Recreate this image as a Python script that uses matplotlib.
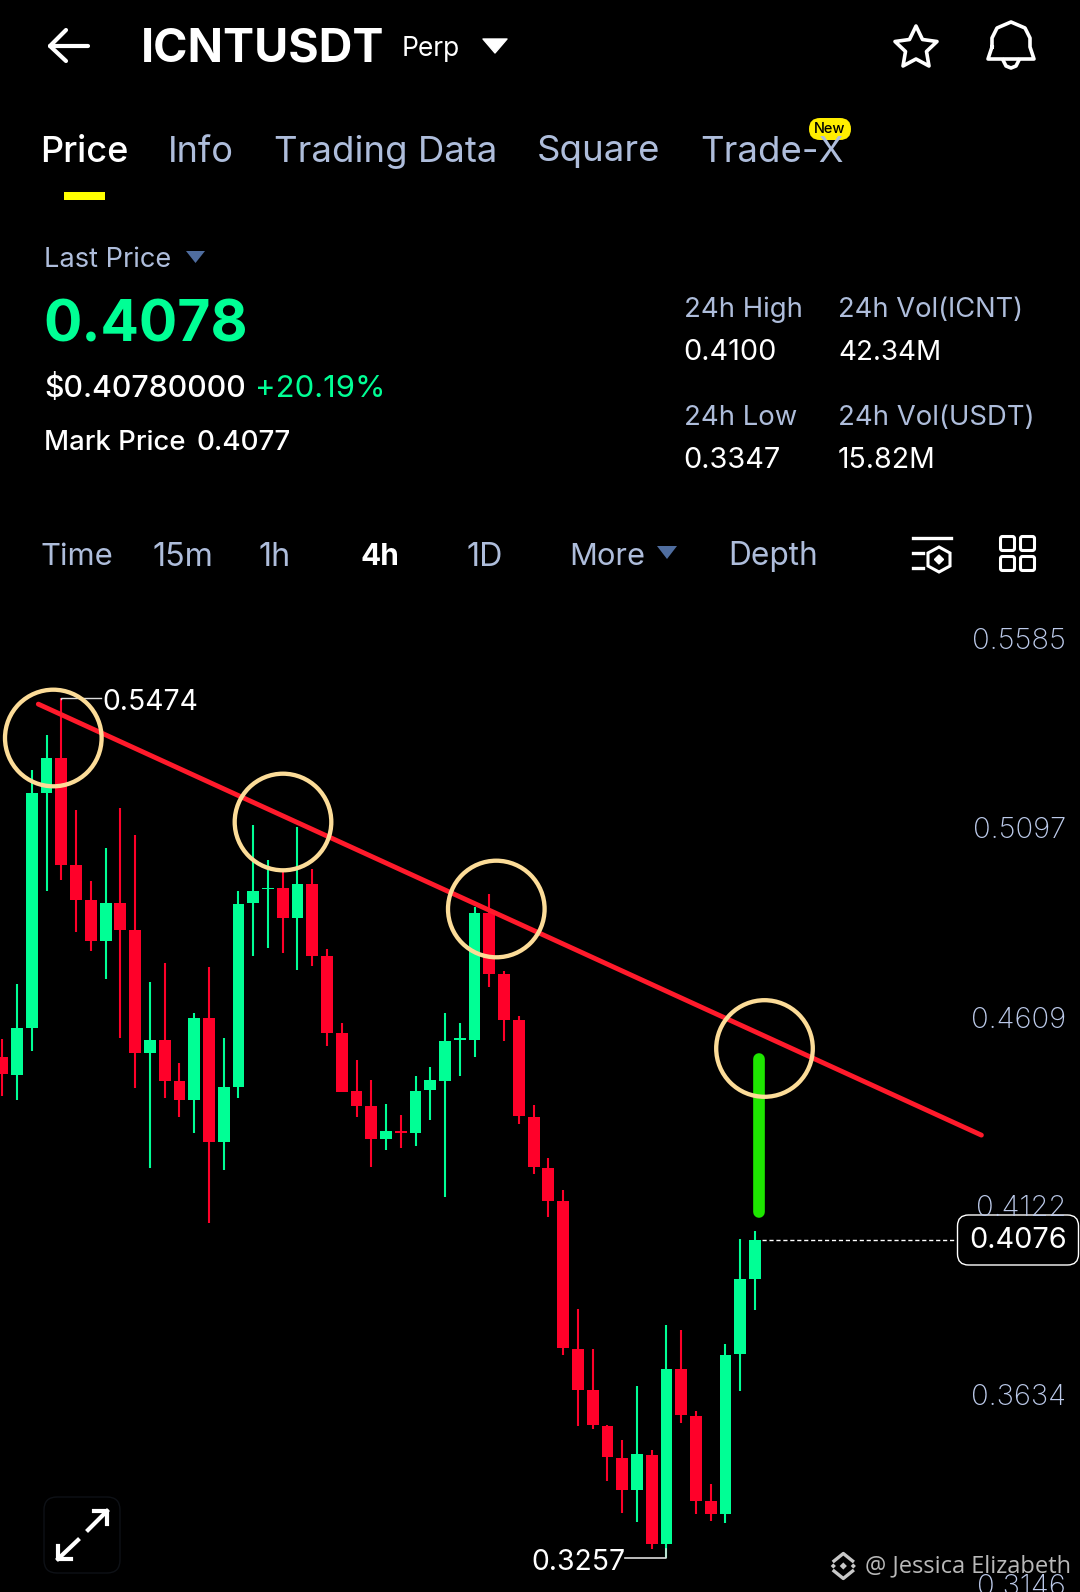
import matplotlib
matplotlib.use('Agg')
import matplotlib.pyplot as plt
from matplotlib.patches import Circle, FancyBboxPatch, Polygon, Rectangle

# candles (oldest first)
opens = [.4549, .4502, .4623, .5229, .5320, .5043, .4954, .4849, .4946, .4877,
         .4560, .4593, .4487, .4437, .4649, .4328, .4471, .4946, .4981, .4984,
         .4907, .4995, .4810, .4610, .4462, .4422, .4337, .4357, .4353, .4463,
         .4487, .4592, .4592, .4919, .4764, .4644, .4395, .4263, .4177, .3795,
         .3690, .3597, .3514, .3431, .3522, .3292, .3744, .3622, .3403, .3369,
         .3783, .3976]
closes = [.4506, .4623, .5229, .5320, .5043, .4954, .4849, .4946, .4877, .4560,
          .4593, .4487, .4437, .4649, .4328, .4471, .4943, .4977, .4985, .4907,
          .4995, .4810, .4610, .4459, .4422, .4337, .4358, .4353, .4462, .4488,
          .4590, .4597, .4919, .4764, .4644, .4396, .4264, .4177, .3799, .3690,
          .3599, .3516, .3431, .3524, .3292, .3743, .3625, .3403, .3370, .3780,
          .3976, .4076]
highs = [.4595, .4736, .5289, .5379, .5474, .5186, .5003, .5089, .5190, .5122,
         .4742, .4791, .4533, .4661, .4781, .4597, .4976, .5148, .5056, .5025,
         .5142, .5033, .4827, .4637, .4541, .4489, .4427, .4399, .4500, .4524,
         .4663, .4637, .4936, .4969, .4771, .4654, .4425, .4289, .4205, .3898,
         .3795, .3600, .3560, .3701, .3535, .3857, .3844, .3634, .3447, .3807,
         .4079, .4100]
lows = [.4449, .4437, .4565, .4976, .5005, .4872, .4823, .4751, .4597, .4469,
        .4262, .4442, .4395, .4352, .4121, .4258, .4442, .4808, .4830, .4817,
        .4773, .4783, .4578, .4457, .4393, .4264, .4309, .4314, .4319, .4386,
        .4188, .4500, .4549, .4728, .4590, .4377, .4248, .4137, .3780, .3597,
        .3589, .3455, .3373, .3350, .3279, .3257, .3605, .3369, .3352, .3347,
        .3688, .3896]

axis_prices = ['0.5585', '0.5097', '0.4609', '0.4122', '0.3634', '0.3146']
axis_values = [0.5585, 0.5097, 0.4609, 0.4122, 0.3634, 0.3146]
last_price = 0.4076
trend_x = [2.44, 66.34]
trend_y = [0.5459, 0.4347]
stroke_x = [51.3, 51.3]
stroke_y = [0.4543, 0.4149]

UP = '#00ff95'
DOWN = '#ff0029'
GREY = '#aebddb'
WHITE = '#ffffff'
BLUE = '#4f6d9f'
FONT = 'Inter'

fig = plt.figure(figsize=(10.8, 15.92), dpi=100, facecolor='black')

# price chart, the full canvas so candles land where they do on the phone
ax = fig.add_axes([0, 0, 1, 1], facecolor='black')
ax.set_xlim(-0.156, 73.02)
ax.set_ylim(0.31683, 0.72756)
ax.axis('off')

xs = list(range(len(opens)))
colors = [UP if c >= o else DOWN for o, c in zip(opens, closes)]
ax.vlines(xs, lows, highs, colors=colors, linewidth=1.5, zorder=2)
bottoms = [min(o, c) for o, c in zip(opens, closes)]
heights = [max(abs(c - o), 0.0004) for o, c in zip(opens, closes)]
ax.bar(xs, heights, bottom=bottoms, width=0.8, color=colors, linewidth=0, zorder=3)

ax.plot(trend_x, trend_y, color='#ff1a2b', lw=3.5, solid_capstyle='round', zorder=5)
ax.plot(stroke_x, stroke_y, color='#1ee600', lw=8.4, solid_capstyle='round', zorder=5)

# high/low callouts
ax.plot([4, 4, 6.7], [0.5474 - 0.0002, 0.5474, 0.5474], color='#dddddd', lw=1, zorder=4)
ax.plot([45, 45, 42.2], [0.3280, 0.3257, 0.3257], color='#dddddd', lw=1.2, zorder=4)
ax.plot([51.5, 64.5], [last_price, last_price], color=WHITE, lw=1,
        dashes=(3, 2), zorder=4)

# everything else in screen pixels
ui = fig.add_axes([0, 0, 1, 1], facecolor='none')
ui.set_xlim(0, 1080)
ui.set_ylim(1592, 0)
ui.axis('off')


def label(x, y, s, size, color=GREY, weight='normal', ha='left'):
    ui.text(x, y, s, fontsize=size, color=color, fontweight=weight, ha=ha, va='center',
            family=FONT, zorder=10)


for cx, cy in [(53.3, 738), (283, 822), (496.3, 909), (764.5, 1048.5)]:
    ui.add_patch(Circle((cx, cy), 48.3, fill=False, ec='#fcdc98', lw=3.1, zorder=6))

for s, p in zip(axis_prices, axis_values):
    ui.text(1066, 698.3 + (0.5474 - p) * 3876 - 13.5, s, fontsize=21, color='#bccaea', ha='right',
            va='center', family=FONT, fontweight='light', clip_on=True, zorder=8)

ui.text(102, 702, '0.5474', fontsize=20.4, color=WHITE, family=FONT, va='center', zorder=8)
ui.text(531, 1562, '0.3257', fontsize=20.4, color=WHITE, family=FONT, va='center', zorder=8)

ui.add_patch(FancyBboxPatch((957.5, 1215), 121, 50, boxstyle='round,pad=0,rounding_size=11',
                            fc='black', ec=WHITE, lw=1, zorder=7))
label(1018.5, 1241, '0.4076', 20.8, color=WHITE, ha='center')

# header
ui.plot([50, 88], [46, 46], color=WHITE, lw=3, solid_capstyle='round')
ui.plot([66, 50, 66], [30, 46, 61], color=WHITE, lw=3, solid_capstyle='round',
        solid_joinstyle='round')
label(141, 49, 'ICNTUSDT', 33.5, color=WHITE, weight='bold')
label(402, 49, 'Perp', 19, color=WHITE)
ui.add_patch(Polygon([(483, 39), (507, 39), (495, 53)], fc=WHITE, ec=WHITE, lw=1, joinstyle='round'))

# star and bell
ui.add_patch(Polygon([(916, 26), (922.5, 39.5), (937, 41.5), (926.5, 51.5), (929, 66), (916, 59),
                      (903, 66), (905.5, 51.5), (895, 41.5), (909.5, 39.5)],
                     fill=False, ec=WHITE, lw=2.6, joinstyle='round'))
ui.plot([992, 992, 997, 1011, 1025, 1030, 1030, 1034, 988, 992],
        [47, 38, 28, 22, 28, 38, 47, 59, 59, 47],
        color=WHITE, lw=2.6, solid_joinstyle='round')
ui.plot([1003, 1006, 1011, 1016, 1019], [60, 66, 68, 66, 60], color=WHITE, lw=2.6)

# tabs
label(40.5, 152, 'Price', 26, color=WHITE, weight='medium')
label(168, 152, 'Info', 26)
label(274, 152, 'Trading Data', 26.3)
label(537, 152, 'Square', 26.3)
label(700, 152, 'Trade-X', 26.3)
ui.add_patch(Rectangle((64, 192), 41, 8, fc='#ffff00', ec='none'))
ui.add_patch(FancyBboxPatch((809, 118), 42, 22, boxstyle='round,pad=0,rounding_size=11',
                            fc='#ffee00', ec='none', zorder=9))
ui.text(830, 129, 'New', fontsize=10.5, color='black', ha='center', va='center', family=FONT,
        fontweight='medium', zorder=11)

# price block
label(44, 260, 'Last Price', 19.6)
ui.add_patch(Polygon([(186, 251), (205, 251), (195.5, 263)], fc=BLUE, ec='none'))
label(43, 326, '0.4078', 41, color=UP, weight='bold')
label(44, 389, '$0.40780000', 21.8, color=WHITE, weight='medium')
label(255, 389, '+20.19%', 22.3, color=UP)
label(44, 443, 'Mark Price', 19.8, color=WHITE, weight='medium')
label(196, 443, '0.4077', 20, color=WHITE, weight='medium')

label(683.5, 310, '24h High', 19.8)
label(683.5, 353, '0.4100', 20.8, color=WHITE)
label(838, 310, '24h Vol(ICNT)', 19.7)
label(838, 353, '42.34M', 20, color=WHITE)
label(683.5, 418, '24h Low', 19.8)
label(683.5, 461, '0.3347', 20.8, color=WHITE)
label(838, 418, '24h Vol(USDT)', 19.8)
label(838, 461, '15.82M', 20.5, color=WHITE)

# interval row
label(41, 557, 'Time', 22.3)
label(153, 557, '15m', 23.2)
label(258, 557, '1h', 23.2)
label(360, 557, '4h', 21.5, color=WHITE, weight='bold')
label(467, 557, '1D', 23.2)
label(569, 557, 'More', 22.2)
ui.add_patch(Polygon([(657, 546), (677, 546), (667, 559)], fc=BLUE, ec='none'))
label(728, 557, 'Depth', 22.8)

# small icons top right of the chart
ui.plot([913, 951], [538, 538], color=WHITE, lw=2.4)
ui.plot([913, 923], [553, 553], color=WHITE, lw=2.4)
ui.plot([913, 923], [568, 568], color=WHITE, lw=2.4)
ui.add_patch(Polygon([(939, 547), (950, 553), (950, 566), (939, 572), (928, 566), (928, 553)],
                     fill=False, ec=WHITE, lw=2.2))
ui.add_patch(Polygon([(939, 555), (943.5, 559.5), (939, 564), (934.5, 559.5)], fc=WHITE, ec=WHITE))
for gx in (1000.5, 1020.5):
    for gy in (536.5, 556.5):
        ui.add_patch(FancyBboxPatch((gx, gy), 14, 14, boxstyle='round,pad=0,rounding_size=2',
                                    fill=False, ec=WHITE, lw=2.2))

# expand button
ui.add_patch(FancyBboxPatch((44, 1497), 76, 76, boxstyle='round,pad=0,rounding_size=13',
                            fc='black', ec='#0e1116', lw=1))
ui.plot([58, 78], [1559, 1540], color=WHITE, lw=3)
ui.plot([88, 107], [1530, 1511], color=WHITE, lw=3)
ui.plot([58, 58, 71], [1546, 1559, 1559], color=WHITE, lw=3)
ui.plot([94, 107, 107], [1511, 1511, 1524], color=WHITE, lw=3)

# watermark
ui.text(1071, 1566, '@ Jessica Elizabeth', fontsize=17, color='#b9b9b9', ha='right', va='center',
        family='Open Sans', zorder=9)
ui.plot([834, 843.3, 852.6], [1561, 1553.5, 1561], color='#c8c8c8', lw=2.4, zorder=9)
ui.plot([834, 843.3, 852.6], [1571, 1578.5, 1571], color='#c8c8c8', lw=2.4, zorder=9)
for dx, r in [(-10, 2.6), (0, 3.6), (10, 2.6)]:
    ui.add_patch(Polygon([(843.3 + dx, 1566 - r), (843.3 + dx + r, 1566),
                          (843.3 + dx, 1566 + r), (843.3 + dx - r, 1566)],
                         fc='#c8c8c8', ec='none', zorder=9))

fig.savefig('out.png', dpi=100, facecolor='black')
